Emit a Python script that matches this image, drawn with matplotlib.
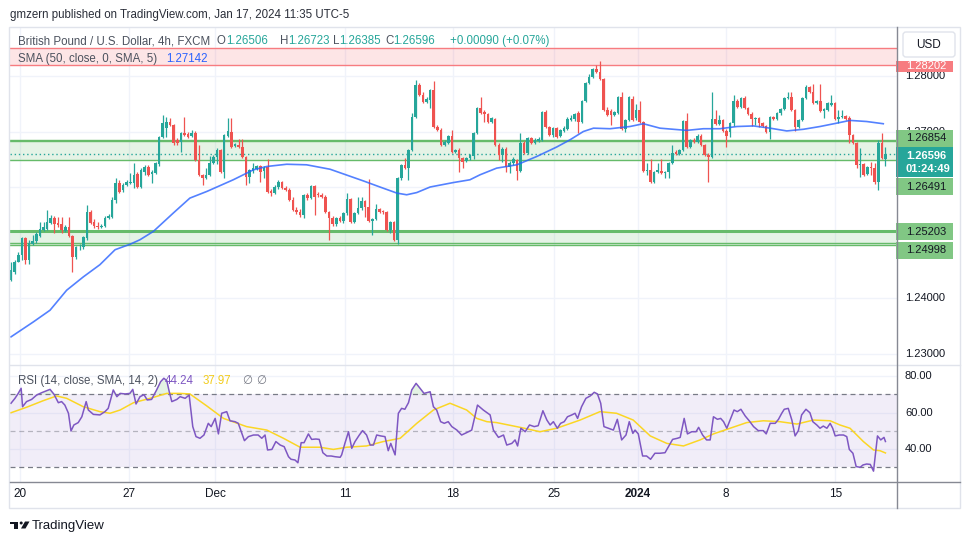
import numpy as np
import matplotlib.pyplot as plt
from matplotlib.patches import Rectangle, FancyBboxPatch, Polygon, Circle
from matplotlib.transforms import blended_transform_factory

plt.rcParams['font.family'] = ['Liberation Sans', 'DejaVu Sans']

W, H = 970, 545
TEAL = '#26a69a'
RED = '#ef5350'

# GBP/USD 4h candles (open, high, low, close)
o = [1.2433, 1.2446, 1.2465, 1.2478, 1.2509, 1.2469, 1.2498, 1.2503, 1.2512, 1.2523,
     1.2525, 1.2536, 1.2545, 1.2536, 1.2534, 1.2521, 1.2528, 1.2512, 1.2474, 1.2491,
     1.2492, 1.2509, 1.2555, 1.2537, 1.2530, 1.2528, 1.2530, 1.2545, 1.2546, 1.2577,
     1.2608, 1.2595, 1.2604, 1.2608, 1.2608, 1.2624, 1.2600, 1.2627, 1.2636, 1.2624,
     1.2626, 1.2642, 1.2690, 1.2707, 1.2717, 1.2712, 1.2685, 1.2681, 1.2698, 1.2696,
     1.2692, 1.2698, 1.2649, 1.2622, 1.2617, 1.2622, 1.2644, 1.2654, 1.2667, 1.2627,
     1.2692, 1.2699, 1.2674, 1.2676, 1.2672, 1.2654, 1.2618, 1.2629, 1.2633, 1.2638,
     1.2629, 1.2636, 1.2593, 1.2590, 1.2600, 1.2609, 1.2599, 1.2595, 1.2577, 1.2559,
     1.2555, 1.2550, 1.2586, 1.2581, 1.2602, 1.2588, 1.2586, 1.2582, 1.2555, 1.2545,
     1.2534, 1.2545, 1.2539, 1.2554, 1.2579, 1.2537, 1.2554, 1.2563, 1.2575, 1.2564,
     1.2539, 1.2543, 1.2561, 1.2557, 1.2555, 1.2523, 1.2537, 1.2505, 1.2617, 1.2640,
     1.2635, 1.2667, 1.2726, 1.2784, 1.2766, 1.2753, 1.2757, 1.2775, 1.2708, 1.2703,
     1.2676, 1.2680, 1.2692, 1.2663, 1.2667, 1.2653, 1.2647, 1.2653, 1.2656, 1.2698,
     1.2743, 1.2735, 1.2732, 1.2717, 1.2723, 1.2676, 1.2658, 1.2669, 1.2636, 1.2644,
     1.2649, 1.2629, 1.2680, 1.2662, 1.2689, 1.2680, 1.2683, 1.2685, 1.2735, 1.2708,
     1.2694, 1.2707, 1.2692, 1.2701, 1.2705, 1.2721, 1.2723, 1.2734, 1.2717, 1.2755,
     1.2788, 1.2798, 1.2813, 1.2807, 1.2795, 1.2739, 1.2737, 1.2730, 1.2734, 1.2762,
     1.2705, 1.2721, 1.2759, 1.2725, 1.2739, 1.2717, 1.2629, 1.2631, 1.2609, 1.2627,
     1.2629, 1.2626, 1.2627, 1.2644, 1.2663, 1.2660, 1.2667, 1.2719, 1.2672, 1.2685,
     1.2681, 1.2692, 1.2676, 1.2658, 1.2654, 1.2723, 1.2714, 1.2721, 1.2701, 1.2699,
     1.2716, 1.2755, 1.2744, 1.2761, 1.2743, 1.2732, 1.2723, 1.2725, 1.2716, 1.2710,
     1.2699, 1.2726, 1.2723, 1.2734, 1.2741, 1.2761, 1.2762, 1.2739, 1.2708, 1.2721,
     1.2761, 1.2780, 1.2771, 1.2752, 1.2755, 1.2737, 1.2739, 1.2748, 1.2752, 1.2723,
     1.2726, 1.2728, 1.2725, 1.2694, 1.2680, 1.2640, 1.2642, 1.2624, 1.2636, 1.2635,
     1.2609, 1.2680, 1.26506]
h = [1.2464, 1.2469, 1.2483, 1.2510, 1.2510, 1.2505, 1.2514, 1.2519, 1.2537, 1.2537,
     1.2559, 1.2550, 1.2548, 1.2546, 1.2546, 1.2532, 1.2546, 1.2514, 1.2494, 1.2498,
     1.2512, 1.2568, 1.2559, 1.2543, 1.2537, 1.2534, 1.2548, 1.2552, 1.2582, 1.2617,
     1.2613, 1.2608, 1.2613, 1.2626, 1.2644, 1.2627, 1.2635, 1.2640, 1.2640, 1.2631,
     1.2645, 1.2692, 1.2730, 1.2726, 1.2725, 1.2714, 1.2689, 1.2699, 1.2726, 1.2699,
     1.2703, 1.2701, 1.2676, 1.2624, 1.2635, 1.2656, 1.2658, 1.2671, 1.2669, 1.2696,
     1.2725, 1.2725, 1.2680, 1.2687, 1.2687, 1.2656, 1.2633, 1.2644, 1.2640, 1.2640,
     1.2638, 1.2651, 1.2597, 1.2604, 1.2613, 1.2611, 1.2602, 1.2599, 1.2582, 1.2564,
     1.2561, 1.2588, 1.2590, 1.2604, 1.2604, 1.2591, 1.2590, 1.2586, 1.2557, 1.2548,
     1.2546, 1.2548, 1.2555, 1.2590, 1.2581, 1.2555, 1.2582, 1.2582, 1.2577, 1.2615,
     1.2545, 1.2570, 1.2563, 1.2559, 1.2557, 1.2539, 1.2539, 1.2618, 1.2642, 1.2653,
     1.2669, 1.2734, 1.2793, 1.2788, 1.2771, 1.2762, 1.2777, 1.2791, 1.2712, 1.2707,
     1.2685, 1.2694, 1.2703, 1.2669, 1.2671, 1.2654, 1.2654, 1.2660, 1.2699, 1.2744,
     1.2762, 1.2739, 1.2734, 1.2726, 1.2725, 1.2680, 1.2672, 1.2672, 1.2647, 1.2654,
     1.2651, 1.2698, 1.2683, 1.2690, 1.2690, 1.2689, 1.2690, 1.2737, 1.2739, 1.2710,
     1.2708, 1.2708, 1.2705, 1.2710, 1.2726, 1.2730, 1.2734, 1.2737, 1.2757, 1.2789,
     1.2804, 1.2815, 1.2820, 1.2827, 1.2797, 1.2744, 1.2741, 1.2737, 1.2764, 1.2771,
     1.2723, 1.2764, 1.2764, 1.2750, 1.2755, 1.2719, 1.2644, 1.2651, 1.2629, 1.2644,
     1.2651, 1.2629, 1.2645, 1.2676, 1.2667, 1.2669, 1.2721, 1.2734, 1.2687, 1.2689,
     1.2696, 1.2696, 1.2678, 1.2662, 1.2771, 1.2739, 1.2730, 1.2723, 1.2705, 1.2717,
     1.2766, 1.2759, 1.2762, 1.2764, 1.2744, 1.2735, 1.2726, 1.2726, 1.2717, 1.2712,
     1.2728, 1.2728, 1.2735, 1.2743, 1.2762, 1.2771, 1.2771, 1.2741, 1.2723, 1.2762,
     1.2784, 1.2782, 1.2786, 1.2757, 1.2786, 1.2743, 1.2753, 1.2766, 1.2753, 1.2739,
     1.2739, 1.2730, 1.2728, 1.2696, 1.2681, 1.2671, 1.2644, 1.2638, 1.2645, 1.2644,
     1.2685, 1.2698, 1.26723]
l = [1.2431, 1.2444, 1.2464, 1.2469, 1.2462, 1.2462, 1.2496, 1.2500, 1.2510, 1.2521,
     1.2523, 1.2534, 1.2518, 1.2528, 1.2518, 1.2519, 1.2510, 1.2447, 1.2471, 1.2487,
     1.2489, 1.2505, 1.2534, 1.2527, 1.2525, 1.2527, 1.2528, 1.2543, 1.2545, 1.2572,
     1.2590, 1.2591, 1.2602, 1.2606, 1.2599, 1.2599, 1.2599, 1.2622, 1.2620, 1.2608,
     1.2624, 1.2638, 1.2689, 1.2690, 1.2710, 1.2676, 1.2676, 1.2663, 1.2692, 1.2689,
     1.2690, 1.2647, 1.2620, 1.2604, 1.2615, 1.2620, 1.2642, 1.2642, 1.2626, 1.2617,
     1.2690, 1.2671, 1.2672, 1.2671, 1.2653, 1.2604, 1.2608, 1.2626, 1.2631, 1.2609,
     1.2617, 1.2590, 1.2584, 1.2588, 1.2597, 1.2597, 1.2593, 1.2575, 1.2557, 1.2552,
     1.2546, 1.2545, 1.2577, 1.2579, 1.2550, 1.2582, 1.2581, 1.2554, 1.2505, 1.2530,
     1.2530, 1.2537, 1.2536, 1.2550, 1.2536, 1.2536, 1.2552, 1.2559, 1.2546, 1.2537,
     1.2514, 1.2541, 1.2554, 1.2552, 1.2521, 1.2518, 1.2503, 1.2498, 1.2613, 1.2633,
     1.2613, 1.2665, 1.2725, 1.2764, 1.2752, 1.2752, 1.2743, 1.2707, 1.2701, 1.2674,
     1.2674, 1.2678, 1.2662, 1.2662, 1.2627, 1.2635, 1.2645, 1.2649, 1.2651, 1.2696,
     1.2732, 1.2717, 1.2716, 1.2716, 1.2674, 1.2649, 1.2645, 1.2627, 1.2626, 1.2640,
     1.2613, 1.2627, 1.2660, 1.2660, 1.2678, 1.2678, 1.2681, 1.2683, 1.2707, 1.2692,
     1.2690, 1.2689, 1.2690, 1.2699, 1.2703, 1.2719, 1.2719, 1.2698, 1.2716, 1.2753,
     1.2786, 1.2797, 1.2806, 1.2793, 1.2737, 1.2728, 1.2712, 1.2728, 1.2732, 1.2703,
     1.2699, 1.2719, 1.2719, 1.2721, 1.2716, 1.2627, 1.2622, 1.2608, 1.2608, 1.2626,
     1.2624, 1.2617, 1.2617, 1.2642, 1.2658, 1.2658, 1.2665, 1.2671, 1.2671, 1.2680,
     1.2680, 1.2674, 1.2656, 1.2609, 1.2653, 1.2712, 1.2712, 1.2699, 1.2672, 1.2690,
     1.2710, 1.2743, 1.2743, 1.2741, 1.2730, 1.2710, 1.2712, 1.2708, 1.2708, 1.2698,
     1.2687, 1.2721, 1.2721, 1.2730, 1.2739, 1.2759, 1.2737, 1.2701, 1.2707, 1.2719,
     1.2759, 1.2770, 1.2750, 1.2750, 1.2735, 1.2725, 1.2737, 1.2746, 1.2721, 1.2716,
     1.2725, 1.2721, 1.2680, 1.2678, 1.2635, 1.2618, 1.2620, 1.2622, 1.2622, 1.2606,
     1.2595, 1.2651, 1.26385]
c = [1.2451, 1.2465, 1.2478, 1.2509, 1.2469, 1.2500, 1.2503, 1.2516, 1.2525, 1.2528,
     1.2537, 1.2545, 1.2534, 1.2532, 1.2523, 1.2528, 1.2512, 1.2474, 1.2492, 1.2492,
     1.2510, 1.2555, 1.2536, 1.2530, 1.2528, 1.2530, 1.2545, 1.2548, 1.2577, 1.2608,
     1.2591, 1.2604, 1.2609, 1.2609, 1.2622, 1.2600, 1.2631, 1.2636, 1.2622, 1.2627,
     1.2644, 1.2690, 1.2716, 1.2717, 1.2712, 1.2680, 1.2680, 1.2698, 1.2694, 1.2690,
     1.2698, 1.2649, 1.2622, 1.2617, 1.2622, 1.2644, 1.2654, 1.2667, 1.2627, 1.2694,
     1.2701, 1.2672, 1.2678, 1.2672, 1.2654, 1.2618, 1.2631, 1.2635, 1.2638, 1.2627,
     1.2635, 1.2591, 1.2590, 1.2600, 1.2609, 1.2599, 1.2595, 1.2577, 1.2559, 1.2555,
     1.2550, 1.2586, 1.2581, 1.2602, 1.2582, 1.2586, 1.2582, 1.2555, 1.2545, 1.2534,
     1.2545, 1.2539, 1.2554, 1.2579, 1.2537, 1.2554, 1.2563, 1.2575, 1.2564, 1.2539,
     1.2543, 1.2561, 1.2555, 1.2555, 1.2523, 1.2537, 1.2505, 1.2617, 1.2640, 1.2635,
     1.2667, 1.2726, 1.2784, 1.2766, 1.2753, 1.2759, 1.2775, 1.2708, 1.2703, 1.2676,
     1.2681, 1.2692, 1.2663, 1.2667, 1.2653, 1.2645, 1.2653, 1.2658, 1.2698, 1.2743,
     1.2734, 1.2732, 1.2717, 1.2725, 1.2676, 1.2658, 1.2669, 1.2636, 1.2644, 1.2651,
     1.2629, 1.2680, 1.2662, 1.2689, 1.2680, 1.2685, 1.2687, 1.2735, 1.2708, 1.2694,
     1.2707, 1.2690, 1.2703, 1.2707, 1.2723, 1.2725, 1.2732, 1.2717, 1.2755, 1.2788,
     1.2798, 1.2813, 1.2807, 1.2795, 1.2739, 1.2730, 1.2730, 1.2735, 1.2762, 1.2705,
     1.2721, 1.2762, 1.2721, 1.2739, 1.2717, 1.2629, 1.2631, 1.2609, 1.2627, 1.2631,
     1.2626, 1.2627, 1.2644, 1.2662, 1.2660, 1.2667, 1.2719, 1.2672, 1.2685, 1.2681,
     1.2692, 1.2676, 1.2658, 1.2654, 1.2723, 1.2714, 1.2721, 1.2701, 1.2692, 1.2716,
     1.2755, 1.2744, 1.2761, 1.2743, 1.2732, 1.2723, 1.2725, 1.2716, 1.2710, 1.2699,
     1.2726, 1.2723, 1.2734, 1.2741, 1.2761, 1.2762, 1.2739, 1.2708, 1.2721, 1.2761,
     1.2780, 1.2771, 1.2752, 1.2755, 1.2737, 1.2741, 1.2752, 1.2752, 1.2723, 1.2726,
     1.2728, 1.2723, 1.2694, 1.2680, 1.2640, 1.2642, 1.2622, 1.2636, 1.2635, 1.2609,
     1.2680, 1.2653, 1.26596]

# SMA(50) line, sampled along the chart (candle index, value)
sma_x = [0, 6.2, 10.8, 15.4, 20.0, 24.6, 28.8, 33.0, 35.7, 39.4,
         44.9, 49.5, 54.2, 61.5, 67.1, 70.8, 76.3, 81.8, 88.3, 97.5,
         102.1, 106.8, 109.5, 112.3, 116.0, 122.4, 127.0, 129.8, 134.4, 140.0,
         145.5, 151.0, 154.7, 158.4, 161.2, 165.8, 171.3, 175.0, 179.6, 187.0,
         191.6, 196.2, 200.9, 205.5, 210.1, 214.7, 219.3, 223.9, 228.5, 232.2,
         236.8, 241.4]
sma_v = [1.2330, 1.2357, 1.2378, 1.2414, 1.2438, 1.2460, 1.2487, 1.2497, 1.2505, 1.2520,
         1.2553, 1.2580, 1.2592, 1.2613, 1.2631, 1.2637, 1.2641, 1.2640, 1.2632, 1.2611,
         1.2600, 1.2589, 1.2586, 1.2590, 1.2600, 1.2608, 1.2613, 1.2622, 1.2634, 1.2640,
         1.2655, 1.2672, 1.2685, 1.2700, 1.2706, 1.2705, 1.2709, 1.2714, 1.2706, 1.2702,
         1.2705, 1.2705, 1.2709, 1.2710, 1.2706, 1.2701, 1.2704, 1.2709, 1.2715, 1.2720,
         1.2718, 1.2714]
sma_last = 1.27142

# RSI(14)
rsi_x = [0, 1.1, 2.0, 2.8, 3.2, 4.3, 5.7, 7.1, 8.5, 9.9,
         10.8, 11.9, 13.1, 14.0, 14.9, 15.9, 16.6, 17.4, 18.6, 19.6,
         20.8, 21.4, 22.8, 24.6, 26.0, 26.9, 28.3, 29.3, 30.2, 31.6,
         32.9, 33.7, 34.6, 35.7, 36.8, 37.7, 38.9, 40.3, 41.4, 42.3,
         43.1, 43.8, 44.5, 45.9, 46.8, 48.2, 49.3, 50.3, 51.2, 52.3,
         53.4, 54.6, 55.4, 56.5, 57.4, 58.3, 59.7, 60.6, 62.0, 62.9,
         64.6, 65.7, 67.1, 68.4, 69.4, 70.3, 71.0, 72.2, 73.3, 74.5,
         75.6, 76.8, 77.5, 78.6, 79.4, 80.3, 81.1, 82.3, 83.2, 84.4,
         85.3, 86.3, 87.4, 88.6, 89.7, 91.1, 91.5, 92.4, 93.4, 94.3,
         95.2, 96.4, 97.3, 98.4, 99.4, 100.3, 101.2, 102.3, 103.5, 104.4,
         105.1, 105.6, 106.3, 107.2, 108.1, 109.0, 110.0, 110.9, 112.1, 113.2,
         114.3, 116.0, 116.9, 117.8, 118.9, 119.9, 121.0, 122.0, 123.4, 124.7,
         126.1, 127.5, 129.1, 130.7, 132.6, 133.5, 134.9, 136.3, 137.2, 138.6,
         139.5, 140.2, 141.1, 142.3, 143.5, 144.8, 145.9, 147.2, 148.3, 149.2,
         150.1, 151.2, 152.1, 153.1, 154.0, 155.2, 156.1, 156.8, 157.9, 159.1,
         160.3, 161.4, 162.3, 163.2, 164.1, 165.3, 166.7, 167.8, 169.0, 170.2,
         171.1, 172.1, 172.7, 173.6, 174.8, 175.9, 177.0, 178.2, 179.6, 181.0,
         182.2, 183.1, 184.4, 185.2, 186.3, 187.2, 188.4, 189.6, 190.3, 191.4,
         192.5, 193.5, 194.4, 195.5, 196.4, 197.2, 198.1, 200.1, 201.0, 202.0,
         203.2, 204.3, 205.5, 206.8, 208.2, 209.0, 210.1, 211.5, 212.4, 213.3,
         214.0, 215.1, 216.1, 217.0, 217.9, 218.8, 220.0, 221.1, 221.9, 223.0,
         223.9, 224.8, 225.8, 226.7, 227.4, 228.1, 229.2, 230.4, 231.3, 232.0,
         233.0, 233.9, 235.0, 235.8, 236.8, 237.8, 238.7, 239.8, 240.7, 241.6,
         242.0]
rsi_v = [65.2, 67.9, 70.6, 73.4, 63.3, 66.1, 67.3, 69.7, 71.0, 72.1,
         72.8, 70.1, 65.5, 66.1, 64.2, 59.7, 50.0, 53.3, 54.6, 57.8,
         66.1, 61.5, 59.1, 58.8, 60.6, 62.4, 72.5, 68.8, 70.6, 70.3,
         70.6, 72.8, 64.8, 68.8, 69.9, 67.0, 67.3, 72.5, 77.0, 78.9,
         77.6, 71.5, 66.1, 67.3, 68.8, 67.9, 69.7, 52.4, 46.9, 46.0,
         47.8, 54.2, 52.4, 56.9, 48.4, 59.7, 60.6, 55.6, 55.1, 54.2,
         44.7, 46.9, 47.8, 47.8, 46.0, 47.8, 39.6, 39.9, 44.2, 42.3,
         41.4, 35.9, 34.5, 34.1, 32.6, 43.6, 43.6, 48.4, 45.4, 45.6,
         45.4, 38.1, 36.3, 36.3, 35.9, 35.6, 36.9, 43.2, 49.6, 40.5,
         44.2, 47.8, 50.2, 47.8, 42.3, 42.3, 47.8, 47.3, 46.9, 39.2,
         43.2, 40.5, 36.9, 59.7, 62.4, 61.9, 65.5, 72.5, 76.1, 73.4,
         70.6, 71.5, 63.3, 61.5, 55.1, 54.2, 55.1, 52.4, 50.5, 47.8,
         49.1, 50.5, 64.2, 61.5, 58.8, 50.5, 46.5, 47.8, 42.3, 43.2,
         45.1, 41.8, 51.5, 49.6, 53.3, 52.4, 52.9, 61.1, 56.0, 53.3,
         55.1, 51.5, 54.2, 55.1, 57.8, 58.8, 59.7, 56.9, 63.3, 67.9,
         69.2, 71.2, 70.3, 65.2, 52.4, 51.5, 50.5, 56.4, 45.1, 47.8,
         55.1, 48.7, 50.5, 48.4, 36.3, 36.3, 34.5, 37.8, 37.8, 38.1,
         42.3, 45.4, 46.0, 46.5, 56.9, 48.4, 49.6, 49.6, 52.0, 47.8,
         45.1, 45.1, 57.8, 56.4, 56.9, 55.1, 51.5, 61.5, 60.6, 61.9,
         58.2, 55.6, 52.4, 50.2, 50.2, 48.4, 54.2, 54.2, 56.4, 59.7,
         61.9, 62.4, 56.0, 47.3, 50.2, 58.8, 61.9, 60.0, 55.1, 53.3,
         51.5, 52.7, 51.5, 54.2, 51.5, 47.3, 47.8, 47.8, 46.9, 39.9,
         37.8, 30.5, 30.1, 31.4, 31.9, 31.7, 28.0, 47.3, 45.1, 46.5,
         44.24]

# SMA(14) of RSI
rma_x = [0, 4.3, 8.9, 12.6, 15.4, 20.0, 24.6, 27.4, 30.2, 33.9,
         38.5, 43.1, 46.8, 49.5, 54.2, 58.8, 65.2, 70.8, 75.4, 80.0,
         85.5, 89.2, 92.9, 98.4, 103.0, 107.7, 112.3, 116.9, 121.5, 126.1,
         128.9, 131.7, 134.4, 140.9, 146.4, 151.0, 157.5, 163.0, 167.6, 172.2,
         176.9, 181.5, 186.1, 190.7, 194.4, 199.0, 203.6, 208.2, 212.8, 217.5,
         222.1, 226.7, 229.4, 232.2, 235.9, 238.7, 240.5, 242.0]
rma_v = [60.0, 63.0, 66.6, 69.2, 67.9, 63.3, 60.6, 59.7, 61.5, 65.5,
         67.9, 70.6, 70.6, 70.3, 63.7, 56.9, 52.4, 50.5, 46.0, 41.1,
         41.1, 39.9, 41.1, 41.8, 44.2, 46.0, 54.2, 61.5, 65.2, 61.5,
         56.9, 55.1, 54.6, 52.0, 49.6, 51.5, 56.0, 60.6, 59.7, 56.0,
         47.3, 43.2, 41.8, 45.1, 48.4, 51.5, 54.6, 55.6, 55.1, 53.8,
         56.0, 55.6, 53.3, 51.5, 44.2, 39.6, 39.2, 37.97]

tick_pos = [2.5, 32.7, 56.5, 92.4, 122.3, 150.3, 173.5, 197.9, 228.1]
tick_lab = ['20', '27', 'Dec', '11', '18', '25', '2024', '8', '15']

zone_red = (1.28202, 1.2851)
zone_mid = (1.26491, 1.2682, 1.26854)
zone_low = (1.2495, 1.24998, 1.25203)
last_price = 1.26596
grid_prices = [1.23, 1.24, 1.25, 1.26, 1.27, 1.28]
price_labels = [1.23, 1.24, 1.28]      # the others sit behind the level tags
rsi_ticks = [80, 60, 40]

o, h, l, c = map(np.array, (o, h, l, c))
x = np.arange(len(c))

fig = plt.figure(figsize=(W / 100, H / 100), dpi=100)


def area(x0, y0, x1, y1):
    return [x0 / W, 1 - y1 / H, (x1 - x0) / W, (y1 - y0) / H]


ax = fig.add_axes(area(10, 28, 897, 365))
axr = fig.add_axes(area(10, 365, 897, 482))
axp = fig.add_axes(area(897, 28, 960, 365))
axq = fig.add_axes(area(897, 365, 960, 482))
for a in (ax, axr, axp, axq):
    a.set_axis_off()

xlim = (-0.28, 245.2)
ax.set_xlim(*xlim)
axr.set_xlim(*xlim)
ax.set_ylim(1.227928, 1.288649)
axp.set_ylim(1.227928, 1.288649)
axr.set_ylim(22.05, 86.16)
axq.set_ylim(22.05, 86.16)
axp.set_xlim(0, 63)
axq.set_xlim(0, 63)
ppu = 337 / (1.288649 - 1.227928)  # pixels per price unit

GRID = '#f0f3fa'
for t in tick_pos:
    ax.axvline(t, color=GRID, lw=1, zorder=0)
    axr.axvline(t, color=GRID, lw=1, zorder=0)
for v in grid_prices:
    ax.axhline(v, color=GRID, lw=1, zorder=0)
for v in rsi_ticks:
    axr.axhline(v, color=GRID, lw=1, zorder=0)

# zones
ax.axhspan(zone_red[0], zone_red[1], color='#f23645', alpha=0.13, lw=0, zorder=1)
for v in zone_red:
    ax.axhline(v, color='#f77c80', lw=1, zorder=2)
ax.axhspan(zone_mid[0], zone_mid[1], color='#4caf50', alpha=0.14, lw=0, zorder=1)
for v in zone_mid:
    ax.axhline(v, color='#66bb6a', lw=1, zorder=2)
ax.axhspan(zone_low[0], zone_low[2], color='#4caf50', alpha=0.14, lw=0, zorder=1)
for v in zone_low:
    ax.axhline(v, color='#66bb6a', lw=1, zorder=2)
ax.axhline(zone_low[2], color='#66bb6a', lw=2.2, zorder=2)
ax.axhline(last_price, color=TEAL, lw=1, ls=(0, (1, 2)), zorder=2)

# candles
col = np.where(c >= o, TEAL, RED)
ax.vlines(x, l, h, colors=col, lw=0.9, zorder=3)
ax.bar(x, np.maximum(np.abs(c - o), 0.00012), 0.72, bottom=np.minimum(o, c),
       color=col, lw=0, zorder=4)
ax.plot(sma_x, sma_v, color='#2962ff', lw=1.2, alpha=0.8, zorder=5)

# RSI pane
axr.axhspan(30, 70, color='#7e57c2', alpha=0.1, lw=0, zorder=1)
for v in (70, 30):
    axr.axhline(v, color='#787b86', lw=0.9, dashes=(4, 3), zorder=2)
axr.axhline(50, color='#787b86', lw=0.9, dashes=(4, 3), alpha=0.5, zorder=2)
rx, rv = np.array(rsi_x), np.array(rsi_v)
axr.fill_between(rx, rv, 70, where=rv > 70, interpolate=True, color='#4caf50', alpha=0.15, lw=0)
axr.fill_between(rx, rv, 30, where=rv < 30, interpolate=True, color='#f23645', alpha=0.15, lw=0)
axr.plot(rx, rv, color='#7e57c2', lw=1.1, zorder=4)
axr.plot(rma_x, rma_v, color='#fbd624', lw=1.1, zorder=3)

tb = blended_transform_factory(axr.transData, axr.transAxes)
for t, s in zip(tick_pos, tick_lab):
    axr.text(t, -12 / 117, s, transform=tb, ha='center', va='center', fontsize=8.5,
             color='#131722', fontweight='bold' if s == '2024' else 'normal')

# price scale
AX_TXT = '#131722'
for v in price_labels:
    axp.text(8, v, f'{v:.5f}', va='center', ha='left', fontsize=8, color=AX_TXT, zorder=3)
for v in rsi_ticks:
    axq.text(8, v, f'{v:.2f}', va='center', ha='left', fontsize=8, color=AX_TXT, zorder=3)


def tag(val, txt, fc, tc, dy=0, hh=17):
    yc = val - dy / ppu
    axp.add_patch(Rectangle((-1, yc - hh / 2 / ppu), 56.7, hh / ppu, fc=fc, ec='none',
                            zorder=4, clip_on=False))
    axp.text(9, yc, txt, va='center', ha='left', fontsize=8, color=tc, zorder=5)
    return yc + hh / 2 / ppu


top_1268 = tag(zone_mid[2], f'{zone_mid[2]:.5f}', '#81c784', AX_TXT, dy=-1.3)
# 1.27000 peeks out above the 1.26854 tag, only its top shows
t127 = axp.text(8, 1.27, '1.27000', va='center', ha='left', fontsize=8, color=AX_TXT, zorder=3)
t127.set_clip_path(Rectangle((0, top_1268), 63, 0.01, transform=axp.transData))
tag(zone_red[0], f'{zone_red[0]:.5f}', '#f77c80', 'white', dy=1.4, hh=11)
tag(zone_mid[0], f'{zone_mid[0]:.5f}', '#81c784', AX_TXT, dy=26.8)
tag(zone_low[2], f'{zone_low[2]:.5f}', '#81c784', AX_TXT, dy=0.3)
tag(zone_low[1], f'{zone_low[1]:.5f}', '#81c784', AX_TXT, dy=7.4)
# last price with countdown
yc = last_price - 7.8 / ppu
axp.add_patch(Rectangle((-1, yc - 15 / ppu), 56.7, 30 / ppu, fc=TEAL, ec='none',
                        zorder=4, clip_on=False))
axp.text(9, yc + 5.7 / ppu, f'{last_price:.5f}', va='center', ha='left', fontsize=8,
         color='white', fontweight='bold', zorder=5)
axp.text(9, yc - 7.3 / ppu, '01:24:49', va='center', ha='left', fontsize=8,
         color='white', fontweight='bold', zorder=5)

# overlay in pixel coordinates for frame, legends, header and logo
axo = fig.add_axes([0, 0, 1, 1], zorder=10)
axo.set_xlim(0, W)
axo.set_ylim(H, 0)
axo.set_axis_off()

axo.add_patch(Rectangle((9, 27), 951, 481, fill=False, ec='#e0e3eb', lw=1))
axo.plot([10, 960], [365, 365], color='#e0e3eb', lw=1)
axo.plot([10, 960], [482, 482], color='#868993', lw=1)
axo.plot([897, 897], [27, 508], color='#868993', lw=1)
axo.add_patch(FancyBboxPatch((903, 32), 52, 25, boxstyle='round,pad=0,rounding_size=3',
                             fc='white', ec='#e0e3eb', lw=1))
axo.text(929, 44.5, 'USD', ha='center', va='center', fontsize=8.5, color=AX_TXT)

axo.text(10, 15, 'gmzern published on TradingView.com, Jan 17, 2024 11:35 UTC-5',
         ha='left', va='center', fontsize=8.3, color='#2a2e39')

LEG = '#4c525e'
axo.text(18, 41, 'British Pound / U.S. Dollar, 4h, FXCM', ha='left', va='center', fontsize=8.3, color=LEG)
for lx, k, vx, val in [(217, 'O', 226, o[-1]), (280, 'H', 288, h[-1]),
                       (333, 'L', 339.5, l[-1]), (385, 'C', 393, c[-1])]:
    axo.text(lx, 41, k, ha='left', va='center', fontsize=8.3, color=LEG)
    axo.text(vx, 41, f'{val:.5f}', ha='left', va='center', fontsize=8.3, color=TEAL)
axo.text(450, 41, f'+{c[-1] - o[-1]:.5f} (+0.07%)', ha='left', va='center', fontsize=8.3, color=TEAL)
axo.text(18, 59, 'SMA (50, close, 0, SMA, 5)', ha='left', va='center', fontsize=8.3, color=LEG)
axo.text(166, 59, f'{sma_last:.5f}', ha='left', va='center', fontsize=8.3, color='#2962ff')

axo.text(18, 381, 'RSI (14, close, SMA, 14, 2)', ha='left', va='center', fontsize=8.3, color=LEG)
axo.text(165, 381, f'{rsi_v[-1]:.2f}', ha='left', va='center', fontsize=8.3, color='#7e57c2')
axo.text(203, 381, f'{rma_v[-1]:.2f}', ha='left', va='center', fontsize=8.3, color='#f2cc1b')
axo.text(242, 381, '\u2205', ha='left', va='center', fontsize=8.3, color='#787b86')
axo.text(256, 381, '\u2205', ha='left', va='center', fontsize=8.3, color='#787b86')

# TradingView logo
LOGO = '#131722'
axo.add_patch(Rectangle((10, 521.5), 8.3, 2.8, fc=LOGO, ec='none'))
axo.add_patch(Rectangle((14, 521.5), 4.3, 7, fc=LOGO, ec='none'))
axo.add_patch(Circle((21.2, 523), 1.5, fc=LOGO, ec='none'))
axo.add_patch(Polygon([(25, 521.5), (29.5, 521.5), (25.5, 528.5), (21, 528.5)], fc=LOGO, ec='none'))
axo.text(31.5, 526.5, 'TradingView', ha='left', va='center', fontsize=9.5, color=LOGO)

fig.savefig('out.png', dpi=100)
